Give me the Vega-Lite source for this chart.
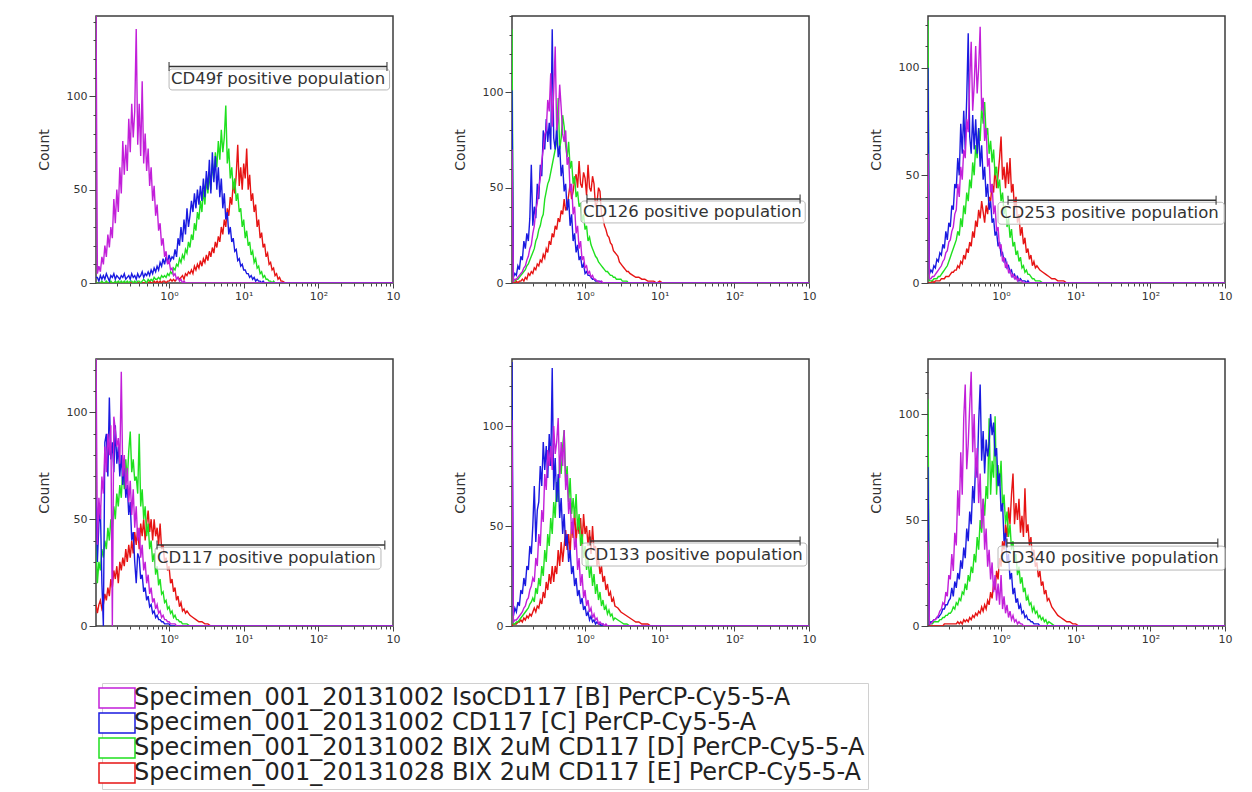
{
"$schema":"https://vega.github.io/schema/vega-lite/v6.json",
"background":"white",
"padding":{"left":36,"top":14,"right":5,"bottom":5},
"config":{
 "view":{"stroke":"#3c3c3c","strokeWidth":1.5},
 "axis":{"domain":false,"grid":false,"labelFont":"DejaVu Sans","labelFontSize":11,"labelColor":"#333","tickColor":"#444","titleFont":"DejaVu Sans","titleFontSize":14,"titleFontWeight":"normal","titleColor":"#333","labelPadding":2,"labelFlush":false,"labelOverlap":false},
 "axisY":{"titlePadding":15},
 "text":{"font":"DejaVu Sans"}
},
"datasets":{
"CD49f":[
{"x":0.105,"B":150,"C":3,"D":0,"E":0},
{"x":0.1096,"B":5,"C":3,"D":0,"E":0},
{"x":0.1148,"B":9,"C":1,"D":0,"E":0},
{"x":0.1202,"B":6,"C":4,"D":0,"E":0},
{"x":0.1259,"B":14,"C":2,"D":1,"E":0},
{"x":0.1318,"B":10,"C":4,"D":0,"E":0},
{"x":0.138,"B":20,"C":2,"D":0,"E":0},
{"x":0.1445,"B":14,"C":5,"D":1,"E":0},
{"x":0.1514,"B":26,"C":3,"D":0,"E":0},
{"x":0.1585,"B":19,"C":1,"D":0,"E":0},
{"x":0.166,"B":30,"C":4,"D":1,"E":0},
{"x":0.1738,"B":24,"C":3,"D":0,"E":0},
{"x":0.182,"B":45,"C":5,"D":0,"E":0},
{"x":0.1905,"B":32,"C":2,"D":1,"E":0},
{"x":0.1995,"B":50,"C":4,"D":0,"E":0},
{"x":0.2089,"B":38,"C":3,"D":1,"E":0},
{"x":0.2188,"B":62,"C":2,"D":0,"E":0},
{"x":0.2291,"B":48,"C":4,"D":1,"E":0},
{"x":0.2399,"B":76,"C":3,"D":0,"E":0},
{"x":0.2512,"B":58,"C":5,"D":1,"E":0},
{"x":0.263,"B":74,"C":2,"D":0,"E":0},
{"x":0.2754,"B":60,"C":3,"D":1,"E":0},
{"x":0.2884,"B":88,"C":4,"D":0,"E":0},
{"x":0.302,"B":70,"C":2,"D":1,"E":0},
{"x":0.3162,"B":96,"C":5,"D":1,"E":0},
{"x":0.3311,"B":78,"C":3,"D":0,"E":0},
{"x":0.3467,"B":92,"C":4,"D":1,"E":0},
{"x":0.3631,"B":136,"C":2,"D":0,"E":0},
{"x":0.3802,"B":74,"C":5,"D":1,"E":0},
{"x":0.3981,"B":96,"C":3,"D":1,"E":0},
{"x":0.4169,"B":68,"C":4,"D":0,"E":0},
{"x":0.4365,"B":108,"C":6,"D":1,"E":0},
{"x":0.4571,"B":64,"C":3,"D":2,"E":0},
{"x":0.4786,"B":80,"C":5,"D":1,"E":0},
{"x":0.5012,"B":60,"C":4,"D":0,"E":0},
{"x":0.5248,"B":72,"C":6,"D":2,"E":0},
{"x":0.5495,"B":52,"C":4,"D":1,"E":1},
{"x":0.5754,"B":62,"C":7,"D":2,"E":0},
{"x":0.6026,"B":44,"C":5,"D":1,"E":0},
{"x":0.631,"B":52,"C":8,"D":3,"E":1},
{"x":0.6607,"B":36,"C":6,"D":2,"E":0},
{"x":0.6918,"B":42,"C":9,"D":2,"E":1},
{"x":0.7244,"B":28,"C":7,"D":3,"E":0},
{"x":0.7586,"B":32,"C":11,"D":2,"E":1},
{"x":0.7943,"B":20,"C":9,"D":4,"E":0},
{"x":0.8318,"B":24,"C":13,"D":3,"E":1},
{"x":0.871,"B":14,"C":10,"D":4,"E":1},
{"x":0.912,"B":17,"C":14,"D":3,"E":0},
{"x":0.955,"B":10,"C":11,"D":5,"E":1},
{"x":1,"B":12,"C":15,"D":4,"E":1},
{"x":1.047,"B":7,"C":12,"D":6,"E":2},
{"x":1.096,"B":8,"C":14,"D":5,"E":1},
{"x":1.148,"B":4,"C":13,"D":8,"E":2},
{"x":1.202,"B":5,"C":18,"D":7,"E":1},
{"x":1.259,"B":2,"C":14,"D":10,"E":2},
{"x":1.318,"B":3,"C":24,"D":9,"E":3},
{"x":1.38,"B":1,"C":20,"D":13,"E":2},
{"x":1.445,"B":2,"C":30,"D":11,"E":3},
{"x":1.514,"B":0,"C":22,"D":15,"E":4},
{"x":1.585,"B":1,"C":34,"D":13,"E":2},
{"x":1.66,"B":0,"C":26,"D":18,"E":5},
{"x":1.738,"B":0,"C":40,"D":16,"E":4},
{"x":1.82,"B":0,"C":30,"D":22,"E":6},
{"x":1.905,"B":0,"C":36,"D":19,"E":5},
{"x":1.995,"B":0,"C":44,"D":26,"E":7},
{"x":2.089,"B":0,"C":38,"D":23,"E":5},
{"x":2.188,"B":0,"C":48,"D":32,"E":9},
{"x":2.291,"B":0,"C":40,"D":28,"E":7},
{"x":2.399,"B":0,"C":50,"D":38,"E":10},
{"x":2.512,"B":0,"C":42,"D":34,"E":8},
{"x":2.63,"B":0,"C":52,"D":44,"E":12},
{"x":2.754,"B":0,"C":44,"D":38,"E":9},
{"x":2.884,"B":0,"C":56,"D":50,"E":13},
{"x":3.02,"B":0,"C":46,"D":42,"E":11},
{"x":3.162,"B":0,"C":60,"D":56,"E":15},
{"x":3.311,"B":0,"C":50,"D":48,"E":12},
{"x":3.467,"B":0,"C":66,"D":58,"E":17},
{"x":3.631,"B":0,"C":48,"D":50,"E":14},
{"x":3.802,"B":0,"C":70,"D":64,"E":19},
{"x":3.981,"B":0,"C":54,"D":56,"E":16},
{"x":4.169,"B":0,"C":68,"D":70,"E":22},
{"x":4.365,"B":0,"C":50,"D":62,"E":19},
{"x":4.571,"B":0,"C":62,"D":76,"E":25},
{"x":4.786,"B":0,"C":46,"D":66,"E":22},
{"x":5.012,"B":0,"C":56,"D":82,"E":30},
{"x":5.248,"B":0,"C":40,"D":70,"E":26},
{"x":5.495,"B":0,"C":48,"D":78,"E":34},
{"x":5.754,"B":0,"C":34,"D":95,"E":30},
{"x":6.026,"B":0,"C":38,"D":64,"E":40},
{"x":6.31,"B":0,"C":26,"D":72,"E":36},
{"x":6.607,"B":0,"C":30,"D":56,"E":46},
{"x":6.918,"B":0,"C":22,"D":62,"E":42},
{"x":7.244,"B":0,"C":24,"D":50,"E":54},
{"x":7.586,"B":0,"C":17,"D":56,"E":48},
{"x":7.943,"B":0,"C":18,"D":44,"E":58},
{"x":8.318,"B":0,"C":12,"D":48,"E":74},
{"x":8.71,"B":0,"C":13,"D":38,"E":52},
{"x":9.12,"B":0,"C":9,"D":40,"E":62},
{"x":9.55,"B":0,"C":10,"D":30,"E":50},
{"x":10,"B":0,"C":7,"D":34,"E":64},
{"x":10.47,"B":0,"C":7,"D":24,"E":56},
{"x":10.96,"B":0,"C":5,"D":28,"E":72},
{"x":11.48,"B":0,"C":5,"D":20,"E":50},
{"x":12.02,"B":0,"C":3,"D":22,"E":58},
{"x":12.59,"B":0,"C":4,"D":15,"E":44},
{"x":13.18,"B":0,"C":2,"D":17,"E":48},
{"x":13.8,"B":0,"C":3,"D":11,"E":38},
{"x":14.45,"B":0,"C":1,"D":13,"E":42},
{"x":15.14,"B":0,"C":2,"D":8,"E":30},
{"x":15.85,"B":0,"C":1,"D":9,"E":34},
{"x":16.6,"B":0,"C":1,"D":5,"E":24},
{"x":17.38,"B":0,"C":0,"D":6,"E":27},
{"x":18.2,"B":0,"C":1,"D":3,"E":19},
{"x":19.05,"B":0,"C":0,"D":4,"E":21},
{"x":19.95,"B":0,"C":0,"D":2,"E":14},
{"x":20.89,"B":0,"C":0,"D":2,"E":16},
{"x":21.88,"B":0,"C":0,"D":1,"E":10},
{"x":22.91,"B":0,"C":0,"D":1,"E":11},
{"x":23.99,"B":0,"C":0,"D":0,"E":7},
{"x":25.12,"B":0,"C":0,"D":1,"E":8},
{"x":26.3,"B":0,"C":0,"D":0,"E":4},
{"x":27.54,"B":0,"C":0,"D":0,"E":5},
{"x":28.84,"B":0,"C":0,"D":0,"E":2},
{"x":30.2,"B":0,"C":0,"D":0,"E":3},
{"x":31.62,"B":0,"C":0,"D":0,"E":1},
{"x":33.11,"B":0,"C":0,"D":0,"E":1},
{"x":36.31,"B":0,"C":0,"D":0,"E":0},
{"x":1000,"B":0,"C":0,"D":0,"E":0}
],
"CD126":[
{"x":0.105,"B":70,"C":101,"D":133,"E":30},
{"x":0.1096,"B":1,"C":3,"D":1,"E":0},
{"x":0.1148,"B":2,"C":5,"D":1,"E":0},
{"x":0.1202,"B":2,"C":4,"D":2,"E":1},
{"x":0.1259,"B":3,"C":9,"D":2,"E":0},
{"x":0.1318,"B":4,"C":7,"D":3,"E":1},
{"x":0.138,"B":5,"C":14,"D":4,"E":1},
{"x":0.1445,"B":6,"C":12,"D":5,"E":2},
{"x":0.1514,"B":8,"C":22,"D":6,"E":1},
{"x":0.1585,"B":9,"C":18,"D":7,"E":3},
{"x":0.166,"B":12,"C":26,"D":9,"E":2},
{"x":0.1738,"B":14,"C":22,"D":10,"E":5},
{"x":0.182,"B":18,"C":34,"D":12,"E":4},
{"x":0.1905,"B":20,"C":62,"D":14,"E":6},
{"x":0.1995,"B":26,"C":30,"D":16,"E":5},
{"x":0.2089,"B":30,"C":40,"D":18,"E":8},
{"x":0.2188,"B":38,"C":34,"D":22,"E":7},
{"x":0.2291,"B":42,"C":52,"D":24,"E":10},
{"x":0.2399,"B":50,"C":44,"D":28,"E":9},
{"x":0.2512,"B":55,"C":62,"D":30,"E":12},
{"x":0.263,"B":64,"C":56,"D":34,"E":11},
{"x":0.2754,"B":70,"C":80,"D":36,"E":15},
{"x":0.2884,"B":78,"C":70,"D":44,"E":13},
{"x":0.302,"B":80,"C":86,"D":48,"E":18},
{"x":0.3162,"B":96,"C":74,"D":52,"E":16},
{"x":0.3311,"B":90,"C":84,"D":54,"E":22},
{"x":0.3467,"B":110,"C":70,"D":58,"E":20},
{"x":0.3631,"B":82,"C":133,"D":62,"E":26},
{"x":0.3802,"B":100,"C":76,"D":66,"E":24},
{"x":0.3981,"B":124,"C":70,"D":70,"E":30},
{"x":0.4169,"B":80,"C":82,"D":74,"E":28},
{"x":0.4365,"B":86,"C":66,"D":97,"E":34},
{"x":0.4571,"B":104,"C":72,"D":70,"E":32},
{"x":0.4786,"B":92,"C":56,"D":76,"E":38},
{"x":0.5012,"B":78,"C":62,"D":88,"E":36},
{"x":0.5248,"B":74,"C":48,"D":82,"E":44},
{"x":0.5495,"B":80,"C":52,"D":72,"E":38},
{"x":0.5754,"B":62,"C":38,"D":66,"E":40},
{"x":0.6026,"B":66,"C":44,"D":74,"E":46},
{"x":0.631,"B":48,"C":30,"D":60,"E":52},
{"x":0.6607,"B":52,"C":36,"D":64,"E":44},
{"x":0.6918,"B":36,"C":22,"D":52,"E":48},
{"x":0.7244,"B":40,"C":26,"D":56,"E":54},
{"x":0.7586,"B":26,"C":16,"D":45,"E":57},
{"x":0.7943,"B":30,"C":20,"D":48,"E":50},
{"x":0.8318,"B":18,"C":12,"D":40,"E":64},
{"x":0.871,"B":22,"C":14,"D":42,"E":52},
{"x":0.912,"B":12,"C":8,"D":32,"E":50},
{"x":0.955,"B":14,"C":10,"D":36,"E":58},
{"x":1,"B":8,"C":5,"D":28,"E":55},
{"x":1.047,"B":9,"C":6,"D":30,"E":46},
{"x":1.096,"B":5,"C":4,"D":22,"E":62},
{"x":1.148,"B":6,"C":4,"D":24,"E":50},
{"x":1.202,"B":3,"C":3,"D":20,"E":48},
{"x":1.259,"B":4,"C":2,"D":18,"E":56},
{"x":1.318,"B":2,"C":2,"D":16,"E":52},
{"x":1.38,"B":2,"C":1,"D":14,"E":40},
{"x":1.445,"B":1,"C":1,"D":13,"E":42},
{"x":1.514,"B":1,"C":1,"D":11,"E":50},
{"x":1.585,"B":0,"C":1,"D":10,"E":48},
{"x":1.66,"B":1,"C":0,"D":9,"E":36},
{"x":1.738,"B":0,"C":0,"D":8,"E":34},
{"x":1.82,"B":0,"C":0,"D":7,"E":30},
{"x":1.905,"B":0,"C":0,"D":6,"E":28},
{"x":1.995,"B":0,"C":0,"D":6,"E":25},
{"x":2.089,"B":0,"C":0,"D":5,"E":24},
{"x":2.188,"B":0,"C":0,"D":4,"E":21},
{"x":2.291,"B":0,"C":0,"D":4,"E":20},
{"x":2.399,"B":0,"C":0,"D":3,"E":17},
{"x":2.512,"B":0,"C":0,"D":3,"E":16},
{"x":2.63,"B":0,"C":0,"D":2,"E":15},
{"x":2.754,"B":0,"C":0,"D":2,"E":14},
{"x":2.884,"B":0,"C":0,"D":2,"E":11},
{"x":3.02,"B":0,"C":0,"D":2,"E":10},
{"x":3.162,"B":0,"C":0,"D":1,"E":9},
{"x":3.311,"B":0,"C":0,"D":1,"E":8},
{"x":3.467,"B":0,"C":0,"D":1,"E":7},
{"x":3.631,"B":0,"C":0,"D":1,"E":6},
{"x":3.802,"B":0,"C":0,"D":0,"E":6},
{"x":3.981,"B":0,"C":0,"D":0,"E":5},
{"x":4.365,"B":0,"C":0,"D":0,"E":4},
{"x":4.786,"B":0,"C":0,"D":0,"E":3},
{"x":5.248,"B":0,"C":0,"D":0,"E":3},
{"x":5.754,"B":0,"C":0,"D":0,"E":2},
{"x":6.31,"B":0,"C":0,"D":0,"E":2},
{"x":6.918,"B":0,"C":0,"D":0,"E":1},
{"x":7.586,"B":0,"C":0,"D":0,"E":1},
{"x":8.318,"B":0,"C":0,"D":0,"E":1},
{"x":9.12,"B":0,"C":0,"D":0,"E":0},
{"x":10,"B":0,"C":0,"D":0,"E":1},
{"x":10.96,"B":0,"C":0,"D":0,"E":0},
{"x":1000,"B":0,"C":0,"D":0,"E":0}
],
"CD253":[
{"x":0.105,"B":60,"C":100,"D":122,"E":0},
{"x":0.1096,"B":2,"C":4,"D":1,"E":0},
{"x":0.1148,"B":2,"C":6,"D":1,"E":0},
{"x":0.1202,"B":3,"C":5,"D":1,"E":1},
{"x":0.1259,"B":3,"C":8,"D":2,"E":0},
{"x":0.1318,"B":4,"C":7,"D":2,"E":1},
{"x":0.138,"B":5,"C":11,"D":2,"E":1},
{"x":0.1445,"B":6,"C":10,"D":3,"E":1},
{"x":0.1514,"B":7,"C":14,"D":3,"E":1},
{"x":0.1585,"B":8,"C":13,"D":4,"E":2},
{"x":0.166,"B":10,"C":18,"D":5,"E":2},
{"x":0.1738,"B":11,"C":16,"D":6,"E":2},
{"x":0.182,"B":14,"C":24,"D":7,"E":3},
{"x":0.1905,"B":15,"C":20,"D":8,"E":3},
{"x":0.1995,"B":19,"C":28,"D":10,"E":3},
{"x":0.2089,"B":20,"C":26,"D":12,"E":4},
{"x":0.2188,"B":24,"C":36,"D":14,"E":5},
{"x":0.2291,"B":26,"C":34,"D":16,"E":5},
{"x":0.2399,"B":32,"C":46,"D":18,"E":6},
{"x":0.2512,"B":34,"C":44,"D":20,"E":6},
{"x":0.263,"B":46,"C":58,"D":24,"E":8},
{"x":0.2754,"B":40,"C":50,"D":22,"E":7},
{"x":0.2884,"B":54,"C":74,"D":30,"E":10},
{"x":0.302,"B":48,"C":60,"D":26,"E":9},
{"x":0.3162,"B":62,"C":80,"D":36,"E":13},
{"x":0.3311,"B":58,"C":62,"D":32,"E":11},
{"x":0.3467,"B":76,"C":86,"D":42,"E":16},
{"x":0.3631,"B":70,"C":116,"D":38,"E":14},
{"x":0.3802,"B":94,"C":68,"D":48,"E":19},
{"x":0.3981,"B":112,"C":60,"D":44,"E":17},
{"x":0.4169,"B":80,"C":78,"D":56,"E":24},
{"x":0.4365,"B":92,"C":62,"D":50,"E":21},
{"x":0.4571,"B":110,"C":76,"D":64,"E":29},
{"x":0.4786,"B":88,"C":60,"D":58,"E":26},
{"x":0.5012,"B":100,"C":72,"D":72,"E":34},
{"x":0.5248,"B":119,"C":54,"D":66,"E":30},
{"x":0.5495,"B":80,"C":64,"D":82,"E":38},
{"x":0.5754,"B":86,"C":48,"D":74,"E":33},
{"x":0.6026,"B":66,"C":54,"D":84,"E":28},
{"x":0.631,"B":72,"C":40,"D":68,"E":36},
{"x":0.6607,"B":54,"C":46,"D":72,"E":32},
{"x":0.6918,"B":58,"C":34,"D":60,"E":40},
{"x":0.7244,"B":42,"C":38,"D":66,"E":38},
{"x":0.7586,"B":46,"C":28,"D":56,"E":46},
{"x":0.7943,"B":32,"C":30,"D":62,"E":42},
{"x":0.8318,"B":36,"C":22,"D":50,"E":54},
{"x":0.871,"B":24,"C":24,"D":54,"E":44},
{"x":0.912,"B":26,"C":17,"D":44,"E":50},
{"x":0.955,"B":16,"C":19,"D":48,"E":58},
{"x":1,"B":18,"C":13,"D":38,"E":68},
{"x":1.047,"B":10,"C":14,"D":42,"E":48},
{"x":1.096,"B":12,"C":10,"D":32,"E":54},
{"x":1.148,"B":7,"C":11,"D":36,"E":44},
{"x":1.202,"B":9,"C":7,"D":26,"E":56},
{"x":1.259,"B":5,"C":8,"D":30,"E":46},
{"x":1.318,"B":6,"C":5,"D":21,"E":58},
{"x":1.38,"B":3,"C":6,"D":25,"E":42},
{"x":1.445,"B":4,"C":3,"D":17,"E":46},
{"x":1.514,"B":2,"C":4,"D":19,"E":34},
{"x":1.585,"B":3,"C":2,"D":13,"E":40},
{"x":1.66,"B":1,"C":3,"D":15,"E":28},
{"x":1.738,"B":2,"C":1,"D":10,"E":32},
{"x":1.82,"B":1,"C":2,"D":12,"E":22},
{"x":1.905,"B":1,"C":1,"D":7,"E":26},
{"x":1.995,"B":0,"C":1,"D":8,"E":18},
{"x":2.089,"B":0,"C":1,"D":5,"E":21},
{"x":2.188,"B":0,"C":0,"D":6,"E":14},
{"x":2.291,"B":0,"C":1,"D":4,"E":16},
{"x":2.399,"B":0,"C":0,"D":4,"E":11},
{"x":2.512,"B":0,"C":0,"D":3,"E":13},
{"x":2.63,"B":0,"C":0,"D":2,"E":8},
{"x":2.754,"B":0,"C":0,"D":2,"E":10},
{"x":2.884,"B":0,"C":0,"D":1,"E":7},
{"x":3.02,"B":0,"C":0,"D":1,"E":8},
{"x":3.311,"B":0,"C":0,"D":1,"E":6},
{"x":3.631,"B":0,"C":0,"D":0,"E":5},
{"x":3.981,"B":0,"C":0,"D":0,"E":4},
{"x":4.365,"B":0,"C":0,"D":0,"E":3},
{"x":4.786,"B":0,"C":0,"D":0,"E":2},
{"x":5.248,"B":0,"C":0,"D":0,"E":2},
{"x":5.754,"B":0,"C":0,"D":0,"E":1},
{"x":6.31,"B":0,"C":0,"D":0,"E":1},
{"x":6.918,"B":0,"C":0,"D":0,"E":1},
{"x":7.586,"B":0,"C":0,"D":0,"E":0},
{"x":1000,"B":0,"C":0,"D":0,"E":0}
],
"CD117":[
{"x":0.105,"B":130,"C":60,"D":40,"E":10},
{"x":0.1096,"B":38,"C":30,"D":20,"E":6},
{"x":0.1148,"B":60,"C":48,"D":30,"E":10},
{"x":0.1202,"B":50,"C":55,"D":26,"E":12},
{"x":0.1259,"B":70,"C":20,"D":36,"E":8},
{"x":0.1318,"B":62,"C":0,"D":32,"E":10},
{"x":0.138,"B":84,"C":86,"D":40,"E":15},
{"x":0.1445,"B":72,"C":90,"D":36,"E":12},
{"x":0.1514,"B":90,"C":70,"D":46,"E":18},
{"x":0.1585,"B":80,"C":107,"D":40,"E":14},
{"x":0.166,"B":94,"C":78,"D":50,"E":22},
{"x":0.1738,"B":0,"C":86,"D":46,"E":18},
{"x":0.182,"B":98,"C":72,"D":56,"E":26},
{"x":0.1905,"B":92,"C":94,"D":50,"E":22},
{"x":0.1995,"B":84,"C":76,"D":62,"E":28},
{"x":0.2089,"B":88,"C":84,"D":56,"E":20},
{"x":0.2188,"B":76,"C":70,"D":66,"E":30},
{"x":0.2291,"B":119,"C":80,"D":60,"E":26},
{"x":0.2399,"B":70,"C":66,"D":74,"E":32},
{"x":0.2512,"B":80,"C":76,"D":64,"E":28},
{"x":0.263,"B":64,"C":60,"D":78,"E":36},
{"x":0.2754,"B":74,"C":66,"D":68,"E":30},
{"x":0.2884,"B":58,"C":52,"D":82,"E":38},
{"x":0.302,"B":68,"C":58,"D":91,"E":32},
{"x":0.3162,"B":52,"C":40,"D":72,"E":40},
{"x":0.3311,"B":64,"C":44,"D":78,"E":34},
{"x":0.3467,"B":46,"C":30,"D":68,"E":44},
{"x":0.3631,"B":56,"C":20,"D":70,"E":38},
{"x":0.3802,"B":40,"C":34,"D":62,"E":46},
{"x":0.3981,"B":46,"C":32,"D":90,"E":36},
{"x":0.4169,"B":32,"C":22,"D":56,"E":48},
{"x":0.4365,"B":38,"C":24,"D":64,"E":42},
{"x":0.4571,"B":26,"C":16,"D":50,"E":50},
{"x":0.4786,"B":30,"C":18,"D":56,"E":40},
{"x":0.5012,"B":20,"C":12,"D":42,"E":48},
{"x":0.5248,"B":24,"C":14,"D":48,"E":54},
{"x":0.5495,"B":15,"C":9,"D":36,"E":44},
{"x":0.5754,"B":18,"C":10,"D":40,"E":50},
{"x":0.6026,"B":11,"C":6,"D":30,"E":40},
{"x":0.631,"B":13,"C":7,"D":34,"E":50},
{"x":0.6607,"B":8,"C":4,"D":24,"E":42},
{"x":0.6918,"B":10,"C":5,"D":28,"E":46},
{"x":0.7244,"B":6,"C":3,"D":19,"E":38},
{"x":0.7586,"B":7,"C":3,"D":22,"E":48},
{"x":0.7943,"B":4,"C":2,"D":15,"E":36},
{"x":0.8318,"B":5,"C":2,"D":16,"E":38},
{"x":0.871,"B":3,"C":1,"D":11,"E":30},
{"x":0.912,"B":3,"C":1,"D":12,"E":32},
{"x":0.955,"B":2,"C":1,"D":8,"E":26},
{"x":1,"B":2,"C":1,"D":9,"E":28},
{"x":1.047,"B":1,"C":0,"D":6,"E":20},
{"x":1.096,"B":1,"C":0,"D":7,"E":22},
{"x":1.148,"B":1,"C":0,"D":4,"E":16},
{"x":1.202,"B":1,"C":0,"D":5,"E":18},
{"x":1.259,"B":0,"C":0,"D":3,"E":12},
{"x":1.318,"B":0,"C":0,"D":3,"E":14},
{"x":1.38,"B":0,"C":0,"D":2,"E":9},
{"x":1.445,"B":0,"C":0,"D":2,"E":11},
{"x":1.514,"B":0,"C":0,"D":1,"E":7},
{"x":1.585,"B":0,"C":0,"D":1,"E":8},
{"x":1.66,"B":0,"C":0,"D":1,"E":6},
{"x":1.738,"B":0,"C":0,"D":1,"E":7},
{"x":1.905,"B":0,"C":0,"D":0,"E":5},
{"x":2.089,"B":0,"C":0,"D":0,"E":4},
{"x":2.291,"B":0,"C":0,"D":0,"E":3},
{"x":2.512,"B":0,"C":0,"D":0,"E":2},
{"x":2.754,"B":0,"C":0,"D":0,"E":2},
{"x":3.02,"B":0,"C":0,"D":0,"E":1},
{"x":3.311,"B":0,"C":0,"D":0,"E":1},
{"x":3.631,"B":0,"C":0,"D":0,"E":0},
{"x":1000,"B":0,"C":0,"D":0,"E":0}
],
"CD133":[
{"x":0.105,"B":103,"C":132,"D":60,"E":0},
{"x":0.1096,"B":2,"C":5,"D":1,"E":1},
{"x":0.1148,"B":3,"C":9,"D":1,"E":1},
{"x":0.1202,"B":3,"C":7,"D":2,"E":1},
{"x":0.1259,"B":4,"C":12,"D":2,"E":2},
{"x":0.1318,"B":5,"C":10,"D":3,"E":2},
{"x":0.138,"B":6,"C":18,"D":4,"E":3},
{"x":0.1445,"B":7,"C":16,"D":5,"E":2},
{"x":0.1514,"B":9,"C":24,"D":6,"E":4},
{"x":0.1585,"B":10,"C":20,"D":7,"E":3},
{"x":0.166,"B":13,"C":30,"D":8,"E":5},
{"x":0.1738,"B":14,"C":28,"D":9,"E":4},
{"x":0.182,"B":18,"C":40,"D":11,"E":6},
{"x":0.1905,"B":20,"C":36,"D":12,"E":5},
{"x":0.1995,"B":24,"C":50,"D":14,"E":7},
{"x":0.2089,"B":22,"C":70,"D":12,"E":9},
{"x":0.2188,"B":34,"C":42,"D":19,"E":7},
{"x":0.2291,"B":30,"C":58,"D":16,"E":10},
{"x":0.2399,"B":46,"C":62,"D":24,"E":9},
{"x":0.2512,"B":40,"C":80,"D":20,"E":13},
{"x":0.263,"B":58,"C":70,"D":30,"E":11},
{"x":0.2754,"B":52,"C":92,"D":25,"E":17},
{"x":0.2884,"B":76,"C":78,"D":38,"E":14},
{"x":0.302,"B":68,"C":90,"D":32,"E":22},
{"x":0.3162,"B":88,"C":74,"D":46,"E":18},
{"x":0.3311,"B":80,"C":96,"D":40,"E":26},
{"x":0.3467,"B":90,"C":80,"D":54,"E":21},
{"x":0.3631,"B":78,"C":129,"D":46,"E":30},
{"x":0.3802,"B":100,"C":68,"D":62,"E":22},
{"x":0.3981,"B":86,"C":84,"D":54,"E":30},
{"x":0.4169,"B":92,"C":62,"D":72,"E":26},
{"x":0.4365,"B":104,"C":76,"D":62,"E":38},
{"x":0.4571,"B":74,"C":54,"D":84,"E":30},
{"x":0.4786,"B":92,"C":64,"D":76,"E":42},
{"x":0.5012,"B":80,"C":46,"D":90,"E":32},
{"x":0.5248,"B":98,"C":56,"D":98,"E":40},
{"x":0.5495,"B":68,"C":40,"D":72,"E":48},
{"x":0.5754,"B":76,"C":46,"D":80,"E":38},
{"x":0.6026,"B":56,"C":32,"D":62,"E":46},
{"x":0.631,"B":64,"C":38,"D":74,"E":36},
{"x":0.6607,"B":46,"C":26,"D":56,"E":52},
{"x":0.6918,"B":54,"C":30,"D":64,"E":44},
{"x":0.7244,"B":38,"C":20,"D":54,"E":58},
{"x":0.7586,"B":44,"C":24,"D":66,"E":42},
{"x":0.7943,"B":28,"C":15,"D":48,"E":52},
{"x":0.8318,"B":34,"C":18,"D":56,"E":46},
{"x":0.871,"B":20,"C":11,"D":40,"E":54},
{"x":0.912,"B":26,"C":14,"D":46,"E":40},
{"x":0.955,"B":14,"C":8,"D":34,"E":56},
{"x":1,"B":18,"C":10,"D":40,"E":46},
{"x":1.047,"B":10,"C":5,"D":28,"E":50},
{"x":1.096,"B":13,"C":7,"D":34,"E":40},
{"x":1.148,"B":7,"C":3,"D":24,"E":48},
{"x":1.202,"B":9,"C":5,"D":30,"E":36},
{"x":1.259,"B":4,"C":2,"D":20,"E":50},
{"x":1.318,"B":6,"C":3,"D":26,"E":38},
{"x":1.38,"B":3,"C":1,"D":16,"E":40},
{"x":1.445,"B":4,"C":2,"D":21,"E":30},
{"x":1.514,"B":1,"C":1,"D":13,"E":34},
{"x":1.585,"B":2,"C":1,"D":17,"E":26},
{"x":1.66,"B":1,"C":0,"D":10,"E":30},
{"x":1.738,"B":1,"C":1,"D":13,"E":22},
{"x":1.82,"B":0,"C":0,"D":8,"E":25},
{"x":1.905,"B":1,"C":0,"D":10,"E":18},
{"x":1.995,"B":0,"C":0,"D":6,"E":21},
{"x":2.089,"B":0,"C":0,"D":8,"E":15},
{"x":2.188,"B":0,"C":0,"D":5,"E":17},
{"x":2.291,"B":0,"C":0,"D":6,"E":12},
{"x":2.399,"B":0,"C":0,"D":3,"E":14},
{"x":2.512,"B":0,"C":0,"D":4,"E":10},
{"x":2.754,"B":0,"C":0,"D":3,"E":9},
{"x":3.02,"B":0,"C":0,"D":2,"E":7},
{"x":3.311,"B":0,"C":0,"D":1,"E":6},
{"x":3.631,"B":0,"C":0,"D":1,"E":5},
{"x":3.981,"B":0,"C":0,"D":0,"E":4},
{"x":4.365,"B":0,"C":0,"D":0,"E":3},
{"x":4.786,"B":0,"C":0,"D":0,"E":2},
{"x":5.248,"B":0,"C":0,"D":0,"E":2},
{"x":5.754,"B":0,"C":0,"D":0,"E":1},
{"x":6.31,"B":0,"C":0,"D":0,"E":1},
{"x":6.918,"B":0,"C":0,"D":0,"E":1},
{"x":7.586,"B":0,"C":0,"D":0,"E":0},
{"x":1000,"B":0,"C":0,"D":0,"E":0}
],
"CD340":[
{"x":0.105,"B":40,"C":75,"D":107,"E":0},
{"x":0.1096,"B":1,"C":1,"D":1,"E":0},
{"x":0.1148,"B":1,"C":2,"D":1,"E":0},
{"x":0.1202,"B":2,"C":2,"D":1,"E":0},
{"x":0.1259,"B":3,"C":3,"D":2,"E":0},
{"x":0.1318,"B":3,"C":3,"D":2,"E":0},
{"x":0.138,"B":4,"C":4,"D":2,"E":0},
{"x":0.1445,"B":5,"C":4,"D":2,"E":0},
{"x":0.1514,"B":7,"C":5,"D":3,"E":0},
{"x":0.1585,"B":8,"C":6,"D":3,"E":0},
{"x":0.166,"B":11,"C":8,"D":4,"E":0},
{"x":0.1738,"B":10,"C":8,"D":4,"E":1},
{"x":0.182,"B":16,"C":10,"D":5,"E":1},
{"x":0.1905,"B":14,"C":10,"D":5,"E":1},
{"x":0.1995,"B":24,"C":12,"D":6,"E":1},
{"x":0.2089,"B":22,"C":13,"D":6,"E":1},
{"x":0.2188,"B":34,"C":18,"D":7,"E":1},
{"x":0.2291,"B":26,"C":14,"D":9,"E":1},
{"x":0.2399,"B":44,"C":21,"D":8,"E":1},
{"x":0.2512,"B":38,"C":18,"D":11,"E":1},
{"x":0.263,"B":64,"C":25,"D":10,"E":2},
{"x":0.2754,"B":52,"C":22,"D":13,"E":1},
{"x":0.2884,"B":82,"C":31,"D":12,"E":2},
{"x":0.302,"B":62,"C":27,"D":16,"E":1},
{"x":0.3162,"B":98,"C":37,"D":15,"E":3},
{"x":0.3311,"B":114,"C":32,"D":20,"E":2},
{"x":0.3467,"B":74,"C":46,"D":17,"E":3},
{"x":0.3631,"B":86,"C":40,"D":24,"E":2},
{"x":0.3802,"B":104,"C":54,"D":21,"E":4},
{"x":0.3981,"B":120,"C":48,"D":28,"E":3},
{"x":0.4169,"B":82,"C":66,"D":25,"E":5},
{"x":0.4365,"B":100,"C":58,"D":34,"E":4},
{"x":0.4571,"B":70,"C":78,"D":30,"E":6},
{"x":0.4786,"B":84,"C":70,"D":42,"E":5},
{"x":0.5012,"B":58,"C":96,"D":36,"E":7},
{"x":0.5248,"B":72,"C":114,"D":50,"E":6},
{"x":0.5495,"B":46,"C":78,"D":44,"E":9},
{"x":0.5754,"B":60,"C":92,"D":60,"E":7},
{"x":0.6026,"B":36,"C":72,"D":52,"E":10},
{"x":0.631,"B":46,"C":88,"D":66,"E":8},
{"x":0.6607,"B":28,"C":80,"D":60,"E":12},
{"x":0.6918,"B":36,"C":86,"D":98,"E":10},
{"x":0.7244,"B":22,"C":100,"D":62,"E":16},
{"x":0.7586,"B":30,"C":90,"D":78,"E":13},
{"x":0.7943,"B":16,"C":96,"D":70,"E":20},
{"x":0.8318,"B":24,"C":80,"D":99,"E":17},
{"x":0.871,"B":12,"C":84,"D":62,"E":26},
{"x":0.912,"B":20,"C":66,"D":76,"E":22},
{"x":0.955,"B":10,"C":72,"D":66,"E":32},
{"x":1,"B":24,"C":54,"D":78,"E":28},
{"x":1.047,"B":8,"C":58,"D":56,"E":40},
{"x":1.096,"B":14,"C":40,"D":62,"E":36},
{"x":1.148,"B":6,"C":44,"D":48,"E":48},
{"x":1.202,"B":10,"C":30,"D":54,"E":42},
{"x":1.259,"B":4,"C":34,"D":42,"E":56},
{"x":1.318,"B":7,"C":22,"D":48,"E":48},
{"x":1.38,"B":3,"C":25,"D":36,"E":62},
{"x":1.445,"B":5,"C":15,"D":40,"E":72},
{"x":1.514,"B":2,"C":18,"D":30,"E":48},
{"x":1.585,"B":3,"C":11,"D":34,"E":58},
{"x":1.66,"B":1,"C":13,"D":24,"E":50},
{"x":1.738,"B":2,"C":8,"D":28,"E":60},
{"x":1.82,"B":1,"C":10,"D":20,"E":44},
{"x":1.905,"B":1,"C":6,"D":23,"E":52},
{"x":1.995,"B":0,"C":7,"D":16,"E":42},
{"x":2.089,"B":0,"C":4,"D":18,"E":65},
{"x":2.188,"B":0,"C":5,"D":12,"E":44},
{"x":2.291,"B":0,"C":3,"D":14,"E":48},
{"x":2.399,"B":0,"C":3,"D":10,"E":38},
{"x":2.512,"B":0,"C":2,"D":11,"E":42},
{"x":2.63,"B":0,"C":2,"D":7,"E":32},
{"x":2.754,"B":0,"C":1,"D":9,"E":36},
{"x":2.884,"B":0,"C":1,"D":6,"E":28},
{"x":3.02,"B":0,"C":1,"D":7,"E":30},
{"x":3.162,"B":0,"C":1,"D":4,"E":23},
{"x":3.311,"B":0,"C":0,"D":5,"E":26},
{"x":3.467,"B":0,"C":0,"D":3,"E":19},
{"x":3.631,"B":0,"C":0,"D":4,"E":21},
{"x":3.802,"B":0,"C":0,"D":2,"E":15},
{"x":3.981,"B":0,"C":0,"D":3,"E":17},
{"x":4.169,"B":0,"C":0,"D":1,"E":12},
{"x":4.365,"B":0,"C":0,"D":2,"E":13},
{"x":4.786,"B":0,"C":0,"D":1,"E":9},
{"x":5.248,"B":0,"C":0,"D":0,"E":7},
{"x":5.754,"B":0,"C":0,"D":0,"E":5},
{"x":6.31,"B":0,"C":0,"D":0,"E":4},
{"x":6.918,"B":0,"C":0,"D":0,"E":3},
{"x":7.586,"B":0,"C":0,"D":0,"E":2},
{"x":8.318,"B":0,"C":0,"D":0,"E":2},
{"x":9.12,"B":0,"C":0,"D":0,"E":1},
{"x":10,"B":0,"C":0,"D":0,"E":1},
{"x":10.96,"B":0,"C":0,"D":0,"E":0},
{"x":1000,"B":0,"C":0,"D":0,"E":0}
],
"gates":[
{"panel":"CD49f","label":"CD49f positive population","lo":1.0,"hi":830,"gy":116,"bx1":1.0,"bx2":900,"by1":114.6,"by2":103.4,"ty":109},
{"panel":"CD126","label":"CD126 positive population","lo":1.06,"hi":760,"gy":44,"bx1":0.88,"bx2":890,"by1":43,"by2":31.5,"ty":37.2},
{"panel":"CD253","label":"CD253 positive population","lo":1.24,"hi":760,"gy":38.4,"bx1":0.91,"bx2":975,"by1":37.5,"by2":27.3,"ty":32.4},
{"panel":"CD117","label":"CD117 positive population","lo":0.69,"hi":776,"gy":37.9,"bx1":0.65,"bx2":690,"by1":36.9,"by2":26.6,"ty":31.7},
{"panel":"CD133","label":"CD133 positive population","lo":1.17,"hi":760,"gy":42.5,"bx1":0.91,"bx2":935,"by1":41.5,"by2":30,"ty":35.7},
{"panel":"CD340","label":"CD340 positive population","lo":1.2,"hi":800,"gy":39.2,"bx1":0.91,"bx2":1000,"by1":37.7,"by2":26.4,"ty":32}
]
},
"resolve":{"scale":{"x":"independent","y":"independent"}},
"spacing":56,
"vconcat":[
{"hconcat":[
 {"width":297,"height":267,"resolve":{"axis":{"x":"independent","y":"independent"}},"layer":[
  {"data":{"name":"CD49f"},"transform":[{"fold":["E","D","C","B"],"as":["sample","count"]}],
   "mark":{"type":"line","strokeWidth":1.4,"clip":true},
   "encoding":{
    "x":{"field":"x","type":"quantitative","scale":{"type":"log","domain":[0.105,1000],"nice":false},"axis":{"title":null,"orient":"bottom","values":[1,10,100,1000],"labelExpr":"datum.value == 1 ? '10⁰' : datum.value == 10 ? '10¹' : datum.value == 100 ? '10²' : '10'","tickSize":5}},
    "y":{"field":"count","type":"quantitative","scale":{"domain":[0,143],"nice":false},"axis":{"title":"Count","orient":"left","values":[0,50,100],"tickSize":7}},
    "color":{"field":"sample","type":"nominal","scale":{"domain":["B","C","D","E"],"range":["#c21fd9","#1a1ae0","#1fe01f","#e61414"]},
     "legend":{"orient":"none","legendX":6,"legendY":667,"title":null,"labelExpr":"{'B':'Specimen_001_20131002 IsoCD117 [B] PerCP-Cy5-5-A','C':'Specimen_001_20131002 CD117 [C] PerCP-Cy5-5-A','D':'Specimen_001_20131002 BIX 2uM CD117 [D] PerCP-Cy5-5-A','E':'Specimen_001_20131028 BIX 2uM CD117 [E] PerCP-Cy5-5-A'}[datum.label]","symbolType":"M-1.8,-1H1.8V1H-1.8Z","symbolSize":400,"symbolStrokeWidth":1.5,"symbolFillColor":"white","labelFontSize":24,"labelFont":"DejaVu Sans","labelColor":"#222","labelLimit":1000,"rowPadding":-6,"labelOffset":5,"strokeColor":"#d0d0d0","padding":3}}
   }},
  {"data":{"name":"gates"},"transform":[{"filter":"datum.panel == 'CD49f'"}],"mark":{"type":"rect","fill":"white","fillOpacity":0.75,"stroke":"#b8b8b8","strokeWidth":1,"cornerRadius":3},"encoding":{"x":{"field":"bx1","type":"quantitative","axis":{"orient":"bottom","title":null,"labels":false,"tickSize":3,"values":[0.2,0.3,0.4,0.5,0.6,0.7,0.8,0.9,2,3,4,5,6,7,8,9,20,30,40,50,60,70,80,90,200,300,400,500,600,700,800,900]}},"x2":{"field":"bx2"},"y":{"field":"by1","type":"quantitative","axis":{"orient":"left","title":null,"labels":false,"tickSize":3,"values":[10,20,30,40,60,70,80,90,110,120,130,140]}},"y2":{"field":"by2"}}},
  {"data":{"name":"gates"},"transform":[{"filter":"datum.panel == 'CD49f'"}],"mark":{"type":"text","align":"left","baseline":"middle","dx":2,"fontSize":16.5,"color":"#333"},"encoding":{"x":{"field":"bx1","type":"quantitative","axis":null},"y":{"field":"ty","type":"quantitative","axis":null},"text":{"field":"label"}}},
  {"data":{"name":"gates"},"transform":[{"filter":"datum.panel == 'CD49f'"}],"mark":{"type":"rule","color":"#333","strokeWidth":1.5},"encoding":{"x":{"field":"lo","type":"quantitative","axis":null},"x2":{"field":"hi"},"y":{"field":"gy","type":"quantitative","axis":null}}},
  {"data":{"name":"gates"},"transform":[{"filter":"datum.panel == 'CD49f'"},{"fold":["lo","hi"],"as":["end","ex"]}],"mark":{"type":"tick","orient":"vertical","size":9,"thickness":1.5,"color":"#333"},"encoding":{"x":{"field":"ex","type":"quantitative","axis":null},"y":{"field":"gy","type":"quantitative","axis":null}}}
 ]},
 {"width":297,"height":267,"resolve":{"axis":{"x":"independent","y":"independent"}},"layer":[
  {"data":{"name":"CD126"},"transform":[{"fold":["E","D","C","B"],"as":["sample","count"]}],
   "mark":{"type":"line","strokeWidth":1.4,"clip":true},
   "encoding":{
    "x":{"field":"x","type":"quantitative","scale":{"type":"log","domain":[0.105,1000],"nice":false},"axis":{"title":null,"orient":"bottom","values":[1,10,100,1000],"labelExpr":"datum.value == 1 ? '10⁰' : datum.value == 10 ? '10¹' : datum.value == 100 ? '10²' : '10'","tickSize":5}},
    "y":{"field":"count","type":"quantitative","scale":{"domain":[0,140],"nice":false},"axis":{"title":"Count","orient":"left","values":[0,50,100],"tickSize":7}},
    "color":{"field":"sample","type":"nominal"}
   }},
  {"data":{"name":"gates"},"transform":[{"filter":"datum.panel == 'CD126'"}],"mark":{"type":"rect","fill":"white","fillOpacity":0.75,"stroke":"#b8b8b8","strokeWidth":1,"cornerRadius":3},"encoding":{"x":{"field":"bx1","type":"quantitative","axis":{"orient":"bottom","title":null,"labels":false,"tickSize":3,"values":[0.2,0.3,0.4,0.5,0.6,0.7,0.8,0.9,2,3,4,5,6,7,8,9,20,30,40,50,60,70,80,90,200,300,400,500,600,700,800,900]}},"x2":{"field":"bx2"},"y":{"field":"by1","type":"quantitative","axis":{"orient":"left","title":null,"labels":false,"tickSize":3,"values":[10,20,30,40,60,70,80,90,110,120,130,140]}},"y2":{"field":"by2"}}},
  {"data":{"name":"gates"},"transform":[{"filter":"datum.panel == 'CD126'"}],"mark":{"type":"text","align":"left","baseline":"middle","dx":2,"fontSize":16.5,"color":"#333"},"encoding":{"x":{"field":"bx1","type":"quantitative","axis":null},"y":{"field":"ty","type":"quantitative","axis":null},"text":{"field":"label"}}},
  {"data":{"name":"gates"},"transform":[{"filter":"datum.panel == 'CD126'"}],"mark":{"type":"rule","color":"#333","strokeWidth":1.5},"encoding":{"x":{"field":"lo","type":"quantitative","axis":null},"x2":{"field":"hi"},"y":{"field":"gy","type":"quantitative","axis":null}}},
  {"data":{"name":"gates"},"transform":[{"filter":"datum.panel == 'CD126'"},{"fold":["lo","hi"],"as":["end","ex"]}],"mark":{"type":"tick","orient":"vertical","size":9,"thickness":1.5,"color":"#333"},"encoding":{"x":{"field":"ex","type":"quantitative","axis":null},"y":{"field":"gy","type":"quantitative","axis":null}}}
 ]},
 {"width":297,"height":267,"resolve":{"axis":{"x":"independent","y":"independent"}},"layer":[
  {"data":{"name":"CD253"},"transform":[{"fold":["E","D","C","B"],"as":["sample","count"]}],
   "mark":{"type":"line","strokeWidth":1.4,"clip":true},
   "encoding":{
    "x":{"field":"x","type":"quantitative","scale":{"type":"log","domain":[0.105,1000],"nice":false},"axis":{"title":null,"orient":"bottom","values":[1,10,100,1000],"labelExpr":"datum.value == 1 ? '10⁰' : datum.value == 10 ? '10¹' : datum.value == 100 ? '10²' : '10'","tickSize":5}},
    "y":{"field":"count","type":"quantitative","scale":{"domain":[0,124],"nice":false},"axis":{"title":"Count","orient":"left","values":[0,50,100],"tickSize":7}},
    "color":{"field":"sample","type":"nominal"}
   }},
  {"data":{"name":"gates"},"transform":[{"filter":"datum.panel == 'CD253'"}],"mark":{"type":"rect","fill":"white","fillOpacity":0.75,"stroke":"#b8b8b8","strokeWidth":1,"cornerRadius":3},"encoding":{"x":{"field":"bx1","type":"quantitative","axis":{"orient":"bottom","title":null,"labels":false,"tickSize":3,"values":[0.2,0.3,0.4,0.5,0.6,0.7,0.8,0.9,2,3,4,5,6,7,8,9,20,30,40,50,60,70,80,90,200,300,400,500,600,700,800,900]}},"x2":{"field":"bx2"},"y":{"field":"by1","type":"quantitative","axis":{"orient":"left","title":null,"labels":false,"tickSize":3,"values":[10,20,30,40,60,70,80,90,110,120]}},"y2":{"field":"by2"}}},
  {"data":{"name":"gates"},"transform":[{"filter":"datum.panel == 'CD253'"}],"mark":{"type":"text","align":"left","baseline":"middle","dx":2,"fontSize":16.5,"color":"#333"},"encoding":{"x":{"field":"bx1","type":"quantitative","axis":null},"y":{"field":"ty","type":"quantitative","axis":null},"text":{"field":"label"}}},
  {"data":{"name":"gates"},"transform":[{"filter":"datum.panel == 'CD253'"}],"mark":{"type":"rule","color":"#333","strokeWidth":1.5},"encoding":{"x":{"field":"lo","type":"quantitative","axis":null},"x2":{"field":"hi"},"y":{"field":"gy","type":"quantitative","axis":null}}},
  {"data":{"name":"gates"},"transform":[{"filter":"datum.panel == 'CD253'"},{"fold":["lo","hi"],"as":["end","ex"]}],"mark":{"type":"tick","orient":"vertical","size":9,"thickness":1.5,"color":"#333"},"encoding":{"x":{"field":"ex","type":"quantitative","axis":null},"y":{"field":"gy","type":"quantitative","axis":null}}}
 ]}
],"spacing":51,"resolve":{"scale":{"x":"independent","y":"independent"}}},
{"hconcat":[
 {"width":297,"height":267,"resolve":{"axis":{"x":"independent","y":"independent"}},"layer":[
  {"data":{"name":"CD117"},"transform":[{"fold":["E","D","C","B"],"as":["sample","count"]}],
   "mark":{"type":"line","strokeWidth":1.4,"clip":true},
   "encoding":{
    "x":{"field":"x","type":"quantitative","scale":{"type":"log","domain":[0.105,1000],"nice":false},"axis":{"title":null,"orient":"bottom","values":[1,10,100,1000],"labelExpr":"datum.value == 1 ? '10⁰' : datum.value == 10 ? '10¹' : datum.value == 100 ? '10²' : '10'","tickSize":5}},
    "y":{"field":"count","type":"quantitative","scale":{"domain":[0,125],"nice":false},"axis":{"title":"Count","orient":"left","values":[0,50,100],"tickSize":7}},
    "color":{"field":"sample","type":"nominal"}
   }},
  {"data":{"name":"gates"},"transform":[{"filter":"datum.panel == 'CD117'"}],"mark":{"type":"rect","fill":"white","fillOpacity":0.75,"stroke":"#b8b8b8","strokeWidth":1,"cornerRadius":3},"encoding":{"x":{"field":"bx1","type":"quantitative","axis":{"orient":"bottom","title":null,"labels":false,"tickSize":3,"values":[0.2,0.3,0.4,0.5,0.6,0.7,0.8,0.9,2,3,4,5,6,7,8,9,20,30,40,50,60,70,80,90,200,300,400,500,600,700,800,900]}},"x2":{"field":"bx2"},"y":{"field":"by1","type":"quantitative","axis":{"orient":"left","title":null,"labels":false,"tickSize":3,"values":[10,20,30,40,60,70,80,90,110,120]}},"y2":{"field":"by2"}}},
  {"data":{"name":"gates"},"transform":[{"filter":"datum.panel == 'CD117'"}],"mark":{"type":"text","align":"left","baseline":"middle","dx":2,"fontSize":16.5,"color":"#333"},"encoding":{"x":{"field":"bx1","type":"quantitative","axis":null},"y":{"field":"ty","type":"quantitative","axis":null},"text":{"field":"label"}}},
  {"data":{"name":"gates"},"transform":[{"filter":"datum.panel == 'CD117'"}],"mark":{"type":"rule","color":"#333","strokeWidth":1.5},"encoding":{"x":{"field":"lo","type":"quantitative","axis":null},"x2":{"field":"hi"},"y":{"field":"gy","type":"quantitative","axis":null}}},
  {"data":{"name":"gates"},"transform":[{"filter":"datum.panel == 'CD117'"},{"fold":["lo","hi"],"as":["end","ex"]}],"mark":{"type":"tick","orient":"vertical","size":9,"thickness":1.5,"color":"#333"},"encoding":{"x":{"field":"ex","type":"quantitative","axis":null},"y":{"field":"gy","type":"quantitative","axis":null}}}
 ]},
 {"width":297,"height":267,"resolve":{"axis":{"x":"independent","y":"independent"}},"layer":[
  {"data":{"name":"CD133"},"transform":[{"fold":["E","D","C","B"],"as":["sample","count"]}],
   "mark":{"type":"line","strokeWidth":1.4,"clip":true},
   "encoding":{
    "x":{"field":"x","type":"quantitative","scale":{"type":"log","domain":[0.105,1000],"nice":false},"axis":{"title":null,"orient":"bottom","values":[1,10,100,1000],"labelExpr":"datum.value == 1 ? '10⁰' : datum.value == 10 ? '10¹' : datum.value == 100 ? '10²' : '10'","tickSize":5}},
    "y":{"field":"count","type":"quantitative","scale":{"domain":[0,133.5],"nice":false},"axis":{"title":"Count","orient":"left","values":[0,50,100],"tickSize":7}},
    "color":{"field":"sample","type":"nominal"}
   }},
  {"data":{"name":"gates"},"transform":[{"filter":"datum.panel == 'CD133'"}],"mark":{"type":"rect","fill":"white","fillOpacity":0.75,"stroke":"#b8b8b8","strokeWidth":1,"cornerRadius":3},"encoding":{"x":{"field":"bx1","type":"quantitative","axis":{"orient":"bottom","title":null,"labels":false,"tickSize":3,"values":[0.2,0.3,0.4,0.5,0.6,0.7,0.8,0.9,2,3,4,5,6,7,8,9,20,30,40,50,60,70,80,90,200,300,400,500,600,700,800,900]}},"x2":{"field":"bx2"},"y":{"field":"by1","type":"quantitative","axis":{"orient":"left","title":null,"labels":false,"tickSize":3,"values":[10,20,30,40,60,70,80,90,110,120,130]}},"y2":{"field":"by2"}}},
  {"data":{"name":"gates"},"transform":[{"filter":"datum.panel == 'CD133'"}],"mark":{"type":"text","align":"left","baseline":"middle","dx":2,"fontSize":16.5,"color":"#333"},"encoding":{"x":{"field":"bx1","type":"quantitative","axis":null},"y":{"field":"ty","type":"quantitative","axis":null},"text":{"field":"label"}}},
  {"data":{"name":"gates"},"transform":[{"filter":"datum.panel == 'CD133'"}],"mark":{"type":"rule","color":"#333","strokeWidth":1.5},"encoding":{"x":{"field":"lo","type":"quantitative","axis":null},"x2":{"field":"hi"},"y":{"field":"gy","type":"quantitative","axis":null}}},
  {"data":{"name":"gates"},"transform":[{"filter":"datum.panel == 'CD133'"},{"fold":["lo","hi"],"as":["end","ex"]}],"mark":{"type":"tick","orient":"vertical","size":9,"thickness":1.5,"color":"#333"},"encoding":{"x":{"field":"ex","type":"quantitative","axis":null},"y":{"field":"gy","type":"quantitative","axis":null}}}
 ]},
 {"width":297,"height":267,"resolve":{"axis":{"x":"independent","y":"independent"}},"layer":[
  {"data":{"name":"CD340"},"transform":[{"fold":["E","D","C","B"],"as":["sample","count"]}],
   "mark":{"type":"line","strokeWidth":1.4,"clip":true},
   "encoding":{
    "x":{"field":"x","type":"quantitative","scale":{"type":"log","domain":[0.105,1000],"nice":false},"axis":{"title":null,"orient":"bottom","values":[1,10,100,1000],"labelExpr":"datum.value == 1 ? '10⁰' : datum.value == 10 ? '10¹' : datum.value == 100 ? '10²' : '10'","tickSize":5}},
    "y":{"field":"count","type":"quantitative","scale":{"domain":[0,126],"nice":false},"axis":{"title":"Count","orient":"left","values":[0,50,100],"tickSize":7}},
    "color":{"field":"sample","type":"nominal"}
   }},
  {"data":{"name":"gates"},"transform":[{"filter":"datum.panel == 'CD340'"}],"mark":{"type":"rect","fill":"white","fillOpacity":0.75,"stroke":"#b8b8b8","strokeWidth":1,"cornerRadius":3},"encoding":{"x":{"field":"bx1","type":"quantitative","axis":{"orient":"bottom","title":null,"labels":false,"tickSize":3,"values":[0.2,0.3,0.4,0.5,0.6,0.7,0.8,0.9,2,3,4,5,6,7,8,9,20,30,40,50,60,70,80,90,200,300,400,500,600,700,800,900]}},"x2":{"field":"bx2"},"y":{"field":"by1","type":"quantitative","axis":{"orient":"left","title":null,"labels":false,"tickSize":3,"values":[10,20,30,40,60,70,80,90,110,120]}},"y2":{"field":"by2"}}},
  {"data":{"name":"gates"},"transform":[{"filter":"datum.panel == 'CD340'"}],"mark":{"type":"text","align":"left","baseline":"middle","dx":2,"fontSize":16.5,"color":"#333"},"encoding":{"x":{"field":"bx1","type":"quantitative","axis":null},"y":{"field":"ty","type":"quantitative","axis":null},"text":{"field":"label"}}},
  {"data":{"name":"gates"},"transform":[{"filter":"datum.panel == 'CD340'"}],"mark":{"type":"rule","color":"#333","strokeWidth":1.5},"encoding":{"x":{"field":"lo","type":"quantitative","axis":null},"x2":{"field":"hi"},"y":{"field":"gy","type":"quantitative","axis":null}}},
  {"data":{"name":"gates"},"transform":[{"filter":"datum.panel == 'CD340'"},{"fold":["lo","hi"],"as":["end","ex"]}],"mark":{"type":"tick","orient":"vertical","size":9,"thickness":1.5,"color":"#333"},"encoding":{"x":{"field":"ex","type":"quantitative","axis":null},"y":{"field":"gy","type":"quantitative","axis":null}}}
 ]}
],"spacing":51,"resolve":{"scale":{"x":"independent","y":"independent"}}}
]
}
